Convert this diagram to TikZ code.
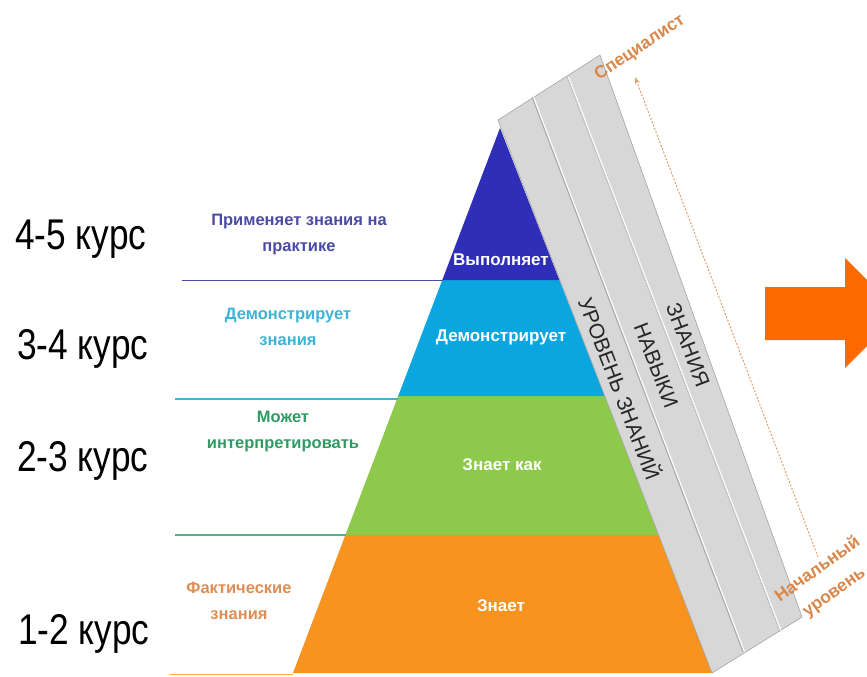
\documentclass[tikz,border=0pt]{standalone}
\usepackage{fontspec}
\setmainfont{Liberation Sans}
\newfontfamily\narrowsans[FakeStretch=0.82]{Liberation Sans}
\usetikzlibrary{arrows.meta}
\definecolor{darkblue}{HTML}{2E2EB8}
\definecolor{skyblue}{HTML}{0BA5DF}
\definecolor{grassgreen}{HTML}{8DC94A}
\definecolor{pyorange}{HTML}{F7931E}
\definecolor{bandgray}{HTML}{D7D7D7}
\definecolor{bandline}{HTML}{A3A3A3}
\definecolor{txtblue}{HTML}{4B4BA6}
\definecolor{txtcyan}{HTML}{3DB3D6}
\definecolor{txtgreen}{HTML}{2F9B62}
\definecolor{txtorange}{HTML}{E08D55}
\definecolor{arroworange}{HTML}{FF6A00}
\definecolor{labelorange}{HTML}{D9874A}
\tikzset{
  course/.style={font=\narrowsans\fontsize{43}{48}\selectfont, text=black, inner sep=0pt, anchor=base west},
  lefttxt/.style={font=\bfseries\fontsize{16.5}{26}\selectfont, align=center, inner sep=0pt},
  layertxt/.style={font=\bfseries\fontsize{17}{20}\selectfont, text=white, inner sep=0pt},
  striptxt/.style={font=\fontsize{21}{24}\selectfont, text=black!85, rotate=-69, inner sep=0pt},
  orangetxt/.style={font=\bfseries\fontsize{17.5}{28}\selectfont, text=labelorange, inner sep=0pt, align=center},
  sepline/.style={line width=1.8pt}
}
\begin{document}
\begin{tikzpicture}[x=1pt,y=-1pt]
\useasboundingbox (0,0) rectangle (867,677);
% pyramid layers
\fill[pyorange] (345.4,535) -- (293,673) -- (713,673) -- (659.1,535) -- cycle;
\fill[grassgreen] (398.2,396) -- (345.4,535) -- (659.1,535) -- (604.7,396) -- cycle;
\fill[skyblue] (442.3,280) -- (398.2,396) -- (604.7,396) -- (559.4,280) -- cycle;
\fill[darkblue] (500,128) -- (442.3,280) -- (559.4,280) -- cycle;
% separator lines
\coordinate (l1a) at (182,280.5); \coordinate (l1b) at (442.5,280.5);
\coordinate (l2a) at (175,399); \coordinate (l2b) at (397.5,399);
\coordinate (l3a) at (175,535); \coordinate (l3b) at (345.5,535);
\coordinate (l4a) at (170,674.5); \coordinate (l4b) at (293,674.5);
\draw[sepline, txtblue] (l1a) -- (l1b);
\draw[sepline, txtcyan] (l2a) -- (l2b);
\draw[sepline, txtgreen!80] (l3a) -- (l3b);
\draw[sepline, pyorange!80] (l4a) -- (l4b);
% gray band
\fill[bandgray] (498,120) -- (600,55) -- (802,617) -- (712,673) -- cycle;
\draw[bandline, line width=0.6pt] (498,120) -- (600,55) -- (802,617) -- (712,673) -- cycle;
\draw[white, line width=1pt] (533.6,97) -- (744.6,652);
\draw[bandline, line width=0.8pt] (532,97) -- (743,652);
\draw[white, line width=1pt] (568.6,77) -- (781.6,632);
\draw[bandline, line width=0.7pt, densely dotted] (567,77) -- (780,632);
% strip texts
\node[striptxt] (s1) at (621,388) {УРОВЕНЬ ЗНАНИЙ};
\node[striptxt] (s2) at (656,365) {НАВЫКИ};
\node[striptxt] (s3) at (688,345) {ЗНАНИЯ};
% dashed arrow
\coordinate (dstart) at (818,557);
\coordinate (dend) at (635,77);
\draw[labelorange!80, line width=1pt, dash pattern=on 2pt off 1.6pt, -{Stealth[length=7pt,width=5pt]}] (dstart) -- (dend);
\node[orangetxt, rotate=34] (spec) at (640,48) {Специалист};
\node[orangetxt, rotate=36] (nach) at (826,581) {Начальный\\уровень};
% big arrow
\begin{scope}
\clip (0,0) rectangle (867,677);
\fill[arroworange] (765,287) -- (845,287) -- (845,258) -- (900,313) -- (845,368) -- (845,340) -- (765,340) -- cycle;
\end{scope}
% layer labels
\node[layertxt] (v1) at (501,260) {Выполняет};
\node[layertxt] (v2) at (501,337) {Демонстрирует};
\node[layertxt] (v3) at (502,465) {Знает как};
\node[layertxt] (v4) at (501,606) {Знает};
% left labels
\node[lefttxt, text=txtblue] (t1) at (299,235) {Применяет знания на\\практике};
\node[lefttxt, text=txtcyan] (t2) at (288,327) {Демонстрирует\\знания};
\node[lefttxt, text=txtgreen] (t3) at (283,432) {Может\\интерпретировать};
\node[lefttxt, text=txtorange] (t4) at (239,601) {Фактические\\знания};
% course labels
\node[course] (c1) at (15,249) {4-5 курс};
\node[course] (c2) at (17,359) {3-4 курс};
\node[course] (c3) at (17,471) {2-3 курс};
\node[course] (c4) at (18,644) {1-2 курс};
\end{tikzpicture}
\end{document}
